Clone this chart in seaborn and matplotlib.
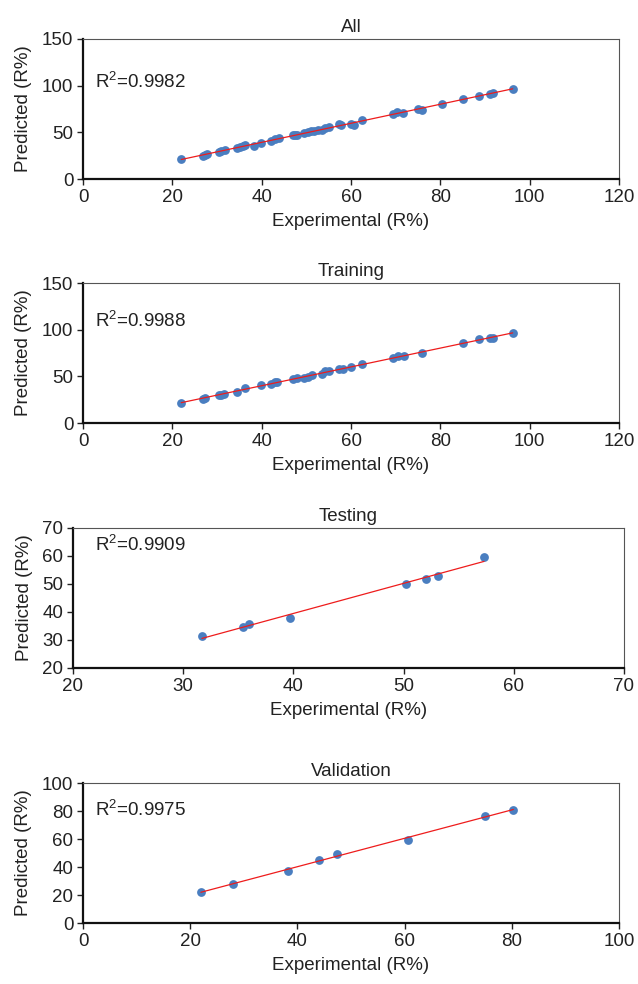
import matplotlib
matplotlib.use('Agg')
import matplotlib.pyplot as plt
import seaborn as sns

# valores (Experimental x Predicted)
all_exp = [22.0, 26.8, 27.4, 27.8, 30.4, 31.0, 31.7, 34.4, 35.1, 35.8, 36.3, 38.2, 39.9,
           42.1, 42.9, 43.9, 47.1, 47.5, 48.0, 49.5, 50.3, 51.0, 51.8, 52.6, 53.4, 54.2, 55.0,
           57.3, 57.8, 60.0, 60.6, 62.4, 69.3, 70.4, 71.7, 74.9, 75.9, 80.3, 85.1, 88.7,
           91.2, 91.8, 96.2]
all_pred = [21.5, 25.0, 25.7, 26.7, 28.9, 30.0, 31.0, 32.9, 34.3, 35.4, 36.9, 35.0, 38.3,
            41.2, 42.6, 43.7, 47.0, 47.5, 47.0, 48.8, 50.2, 51.0, 51.7, 52.4, 52.8, 54.6, 55.7,
            58.9, 57.5, 58.9, 58.2, 63.2, 69.4, 71.6, 71.2, 75.2, 74.4, 80.2, 85.3, 89.3,
            91.4, 91.8, 96.1]

train_exp = [22.0, 26.8, 27.4, 30.4, 31.0, 31.6, 34.4, 36.3, 39.9, 42.1, 42.9, 43.5,
             47.1, 47.9, 49.5, 50.3, 51.2, 53.4, 54.2, 55.0, 57.3, 58.1, 60.0, 62.4,
             69.3, 70.5, 71.9, 75.9, 85.1, 88.7, 91.2, 91.8, 96.2]
train_pred = [21.8, 26.2, 26.9, 29.8, 30.5, 31.2, 33.3, 37.6, 40.4, 42.2, 43.6, 44.3,
              46.8, 47.9, 47.9, 49.7, 51.1, 52.9, 55.4, 56.1, 57.9, 58.2, 59.6, 63.2,
              69.9, 71.7, 71.7, 74.9, 85.6, 89.5, 91.3, 91.6, 96.2]

test_exp = [31.7, 35.4, 36.0, 39.7, 50.2, 52.0, 53.1, 57.3]
test_pred = [31.3, 34.8, 35.7, 37.7, 49.9, 51.7, 53.0, 59.8]

val_exp = [22.0, 28.0, 38.2, 44.0, 47.3, 60.6, 75.0, 80.3]
val_pred = [22.1, 28.1, 36.9, 45.2, 49.0, 59.5, 76.4, 81.0]

sns.set_style('ticks')
plt.rcParams['font.family'] = ['Liberation Sans', 'DejaVu Sans']
plt.rcParams['mathtext.fontset'] = 'custom'
plt.rcParams['mathtext.rm'] = 'Liberation Sans'
plt.rcParams['mathtext.default'] = 'regular'

fig = plt.figure(figsize=(6.38, 9.84), dpi=100)
W, H = 638.0, 984.0
FS = 13.5

paineis = [
    # titulo, x, y, r2, caixa (esq, dir, topo, base) em px, xlim, ylim, xticks, yticks, pos texto
    ('All', all_exp, all_pred, '0.9982', (83, 619, 39, 179), (0, 120), (0, 150),
     range(0, 121, 20), range(0, 151, 50), (0.023, 0.69)),
    ('Training', train_exp, train_pred, '0.9988', (83, 619, 283, 423), (0, 120), (0, 150),
     range(0, 121, 20), range(0, 151, 50), (0.023, 0.73)),
    ('Testing', test_exp, test_pred, '0.9909', (73, 624, 528, 668), (20, 70), (20, 70),
     range(20, 71, 10), range(20, 71, 10), (0.040, 0.88)),
    ('Validation', val_exp, val_pred, '0.9975', (83, 619, 783, 923), (0, 100), (0, 100),
     range(0, 101, 20), range(0, 101, 20), (0.023, 0.81)),
]

for titulo, xs, ys, r2, caixa, xlim, ylim, xt, yt, pos in paineis:
    esq, dir_, topo, base = caixa
    ax = fig.add_axes([esq / W, 1 - base / H, (dir_ - esq) / W, (base - topo) / H])
    sns.regplot(x=xs, y=ys, ax=ax, ci=None,
                scatter_kws=dict(s=40, color='#4a7ec0', linewidths=0, alpha=1),
                line_kws=dict(color='#ee1c1c', lw=0.9))
    ax.set_xlim(*xlim)
    ax.set_ylim(*ylim)
    ax.set_xticks(list(xt))
    ax.set_yticks(list(yt))
    ax.set_title(titulo, fontsize=FS, pad=5, color='#222222')
    ax.set_xlabel('Experimental (R%)', fontsize=FS, color='#222222', labelpad=5)
    ax.set_ylabel('Predicted (R%)', fontsize=FS, color='#222222', labelpad=7)
    ax.tick_params(labelsize=FS, colors='#222222', length=4, width=1, pad=3)
    for lado in ['left', 'bottom']:
        ax.spines[lado].set_color('#111111')
        ax.spines[lado].set_linewidth(1.6)
    for lado in ['top', 'right']:
        ax.spines[lado].set_visible(True)
        ax.spines[lado].set_color('#555555')
        ax.spines[lado].set_linewidth(0.8)
    ax.text(pos[0], pos[1], 'R$^2$=' + r2, transform=ax.transAxes,
            fontsize=FS, va='center', ha='left', color='#222222')

fig.savefig('out.png', dpi=100)
